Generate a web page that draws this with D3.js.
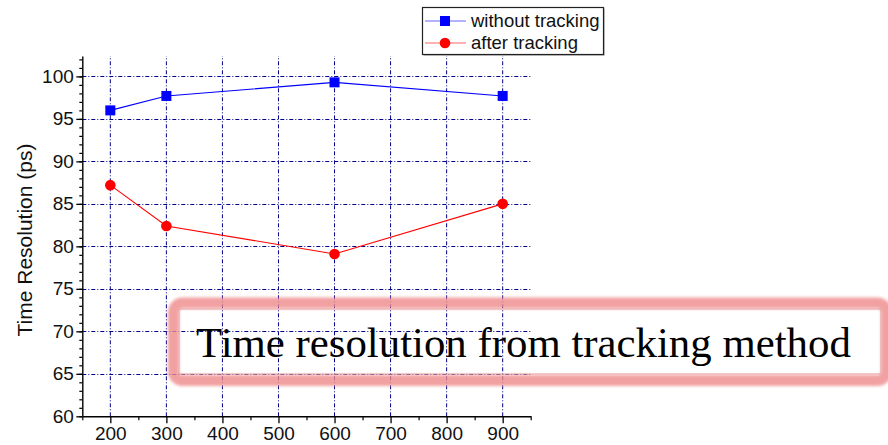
<!DOCTYPE html>
<html>
<head>
<meta charset="utf-8">
<script src="https://cdn.jsdelivr.net/npm/d3@7"></script>
<style>
  html, body { margin: 0; padding: 0; background: #fff; }
  svg { display: block; }
</style>
</head>
<body>
<svg id="chart" width="888" height="445"></svg>
<script>
// ---- data ----
const xValues = [200, 300, 600, 900];
const withoutTracking = [96.0, 97.7, 99.3, 97.7];
const afterTracking = [87.2, 82.4, 79.1, 85.0];
const seriesNames = ["without tracking", "after tracking"];
const xTicks = [200, 300, 400, 500, 600, 700, 800, 900];
const yTicks = [60, 65, 70, 75, 80, 85, 90, 95, 100];
const yTitle = "Time Resolution (ps)";
const overlayText = "Time resolution from tracking method";

// ---- layout ----
const svg = d3.select("#chart");
const x = d3.scaleLinear().domain([150, 950]).range([82.3, 530.7]);
const y = d3.scaleLinear().domain([60, 102.4]).range([416.3, 56]);
const font = "'Liberation Sans', Arial, sans-serif";
const gridColor = "#00008b";

// grid
const grid = svg.append("g");
grid.selectAll("line.v").data(xTicks).join("line")
  .attr("x1", d => x(d)).attr("x2", d => x(d))
  .attr("y1", y.range()[0]).attr("y2", y.range()[1])
  .attr("stroke", gridColor).attr("stroke-width", 1)
  .attr("stroke-dasharray", "4,2,1,2");
grid.selectAll("line.h").data(yTicks.filter(d => d > 60)).join("line")
  .attr("x1", x.range()[0]).attr("x2", x.range()[1])
  .attr("y1", d => Math.round(y(d)) + 0.5).attr("y2", d => Math.round(y(d)) + 0.5)
  .attr("stroke", gridColor).attr("stroke-width", 1)
  .attr("stroke-dasharray", "4,2,1,2");

// axes
const yMinor = d3.range(60, 103, 1);
const xMinor = d3.range(150, 951, 100);
svg.append("g").attr("transform", `translate(${x.range()[0]},0)`)
  .call(d3.axisLeft(y).tickValues(yMinor).tickSize(3).tickFormat(""))
  .call(g => g.select(".domain").remove())
  .call(g => g.selectAll("line").attr("stroke", "#000").attr("stroke-width", 1.2));
svg.append("g").attr("transform", `translate(0,${y.range()[0]})`)
  .call(d3.axisBottom(x).tickValues(xMinor).tickSize(4).tickFormat(""))
  .call(g => g.select(".domain").remove())
  .call(g => g.selectAll("line").attr("stroke", "#000").attr("stroke-width", 1.2));

const yAxis = svg.append("g").attr("transform", `translate(${x.range()[0]},0)`)
  .call(d3.axisLeft(y).tickValues(yTicks).tickSize(6).tickPadding(2.5).tickSizeOuter(0));
yAxis.select(".domain").attr("stroke", "#000").attr("stroke-width", 1.4);
yAxis.selectAll("line").attr("stroke", "#000").attr("stroke-width", 1.3);
yAxis.selectAll("text").attr("font-family", font).attr("font-size", 19).attr("fill", "#111");

const xAxis = svg.append("g").attr("transform", `translate(0,${y.range()[0]})`)
  .call(d3.axisBottom(x).tickValues(xTicks).tickSize(7).tickPadding(3.5).tickSizeOuter(0));
xAxis.select(".domain").attr("stroke", "#000").attr("stroke-width", 1.4);
xAxis.selectAll("line").attr("stroke", "#000").attr("stroke-width", 1.3);
xAxis.selectAll("text").attr("font-family", font).attr("font-size", 19).attr("fill", "#111");

// y title
svg.append("text")
  .attr("transform", "translate(32,240) rotate(-90)")
  .attr("text-anchor", "middle")
  .attr("font-family", font).attr("font-size", 21).attr("fill", "#111")
  .text(yTitle);

// series
const series = [
  { name: seriesNames[0], values: withoutTracking, color: "#0000ff", shape: "square" },
  { name: seriesNames[1], values: afterTracking, color: "#ff0000", shape: "circle" }
];
const line = d3.line().x(d => x(d[0])).y(d => y(d[1]));
function drawMarker(g, shape, color) {
  if (shape === "square") {
    g.append("rect").attr("x", -5).attr("y", -5).attr("width", 10).attr("height", 10).attr("fill", color);
  } else {
    g.append("circle").attr("r", 5.3).attr("fill", color);
  }
}
series.forEach(s => {
  const pts = xValues.map((xv, i) => [xv, s.values[i]]);
  svg.append("path").datum(pts).attr("d", line)
    .attr("fill", "none").attr("stroke", s.color).attr("stroke-width", 1.1);
  pts.forEach(p => {
    const g = svg.append("g").attr("transform", `translate(${x(p[0])},${y(p[1])})`);
    drawMarker(g, s.shape, s.color);
  });
});

// legend
const leg = svg.append("g");
leg.append("rect").attr("x", 423.5).attr("y", 8.5).attr("width", 181).attr("height", 47)
  .attr("fill", "#888").attr("stroke", "none");
leg.append("rect").attr("x", 422.5).attr("y", 7.5).attr("width", 181).attr("height", 47)
  .attr("fill", "#fff").attr("stroke", "#222").attr("stroke-width", 1.2);
series.forEach((s, i) => {
  const cy = 21 + i * 22;
  leg.append("line").attr("x1", 425).attr("x2", 466).attr("y1", cy).attr("y2", cy)
    .attr("stroke", s.color).attr("stroke-width", 1.2).attr("stroke-opacity", 0.6);
  const g = leg.append("g").attr("transform", `translate(445,${cy})`);
  drawMarker(g, s.shape, s.color);
  leg.append("text").attr("x", 471).attr("y", cy).attr("dy", "0.35em")
    .attr("font-family", font).attr("font-size", 18.5).attr("fill", "#111")
    .text(s.name);
});

// overlay annotation box
const defs = svg.append("defs");
defs.append("filter").attr("id", "blur").attr("x", "-5%").attr("y", "-30%").attr("width", "110%").attr("height", "160%")
  .append("feGaussianBlur").attr("stdDeviation", 1.8);
svg.append("rect")
  .attr("x", 173.5).attr("y", 303).attr("width", 713).attr("height", 77.5)
  .attr("rx", 9).attr("ry", 9)
  .attr("fill", "none").attr("stroke", "#ee8a8a").attr("stroke-opacity", 0.8)
  .attr("stroke-width", 11).attr("filter", "url(#blur)");
svg.append("rect")
  .attr("x", 179).attr("y", 309).attr("width", 702).attr("height", 65)
  .attr("fill", "none").attr("stroke", "#e9a0a0").attr("stroke-width", 1);
const ot = svg.append("text")
  .attr("x", 196).attr("y", 357)
  .attr("font-family", "'Liberation Serif', 'Times New Roman', serif")
  .attr("font-size", 40).attr("fill", "#000")
  .text(overlayText);
const len = ot.node().getComputedTextLength();
ot.attr("font-size", 40 * 655 / len);
</script>
</body>
</html>
